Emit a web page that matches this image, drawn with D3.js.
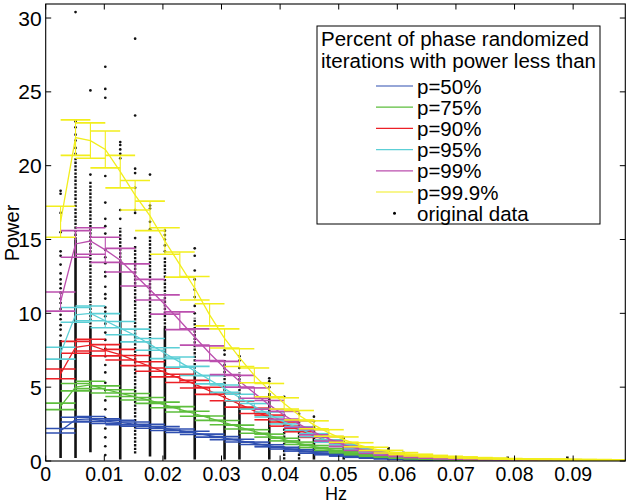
<!DOCTYPE html>
<html><head><meta charset="utf-8">
<script src="https://cdn.jsdelivr.net/npm/d3@7/dist/d3.min.js"></script>
<style>
html,body{margin:0;padding:0;background:#fff;}
text{font-family:"Liberation Sans",Arial,Helvetica,sans-serif;fill:#000;}
</style></head>
<body><svg id="c" width="630" height="504"></svg>
<script>
// ---------------- data ----------------
const freqs = [0.00254,0.00509,0.00763,0.01017,0.01272,0.01526,0.01780,0.02034,0.02289,0.02543,
0.02797,0.03052,0.03306,0.03560,0.03815,0.04069,0.04323,0.04577,0.04832,0.05086,
0.05340,0.05595,0.05849,0.06103,0.06358,0.06612,0.06866,0.07120,0.07375,0.07629,
0.07883,0.08138,0.08392,0.08646,0.08901,0.09155,0.09409,0.09663,0.09918,0.10172];

const seriesNames = ["p=50%","p=75%","p=90%","p=95%","p=99%","p=99.9%"];

const p50 = [2.05,2.8,2.85,2.7,2.6,2.5,2.35,2.2,2.05,1.9,1.72,1.55,1.38,1.2,1.03,0.87,0.72,0.58,0.46,0.36,0.28,0.21,0.16,0.12,0.09,0.07,0.06,0.05,0.04,0.03,0.03,0.02,0.02,0.02,0.02,0.01,0.01,0.01,0.01,0.01];
const p75 = [3.7,5.0,5.15,4.85,4.6,4.35,4.1,3.8,3.5,3.2,2.9,2.6,2.3,2.0,1.72,1.45,1.2,0.98,0.78,0.6,0.46,0.35,0.27,0.21,0.16,0.13,0.1,0.08,0.07,0.06,0.05,0.04,0.04,0.03,0.03,0.03,0.02,0.02,0.02,0.02];
const p90 = [5.9,7.7,7.85,7.5,7.2,6.8,6.4,6.0,5.6,5.2,4.75,4.3,3.85,3.4,2.95,2.5,2.1,1.7,1.35,1.05,0.8,0.6,0.45,0.35,0.27,0.21,0.17,0.14,0.11,0.09,0.08,0.07,0.06,0.05,0.05,0.04,0.04,0.03,0.03,0.03];
const p95 = [7.3,9.9,10.0,9.5,9.0,8.5,7.9,7.3,6.7,6.1,5.5,4.9,4.3,3.7,3.15,2.65,2.2,1.75,1.35,1.05,0.8,0.6,0.45,0.35,0.27,0.21,0.17,0.14,0.12,0.1,0.09,0.08,0.07,0.06,0.05,0.05,0.04,0.04,0.03,0.03];
const p99 = [10.8,14.7,14.9,14.3,13.6,12.6,11.6,10.6,9.5,8.4,7.3,6.3,5.4,4.6,3.8,3.1,2.5,1.95,1.5,1.1,0.82,0.6,0.45,0.35,0.28,0.22,0.18,0.15,0.13,0.11,0.1,0.09,0.08,0.07,0.06,0.06,0.05,0.05,0.04,0.04];
const p999 = [16.2,21.9,21.7,21.1,19.6,18.0,16.6,14.9,13.3,11.7,9.9,8.3,7.0,5.8,4.8,3.9,3.1,2.45,1.9,1.45,1.1,0.82,0.63,0.5,0.4,0.33,0.28,0.24,0.2,0.17,0.15,0.13,0.12,0.11,0.1,0.09,0.08,0.07,0.07,0.06];

// error-bar half widths
const e50 = [0.15,0.16,0.16,0.15,0.15,0.14,0.13,0.13,0.12,0.11,0.1,0.1,0.09,0.08,0.07,0.06,0.05,0.05,0.04,0.03,0.03,0.02,0.02,0.01,0.01,0.01,0.01,0.01,0.01,0.01,0,0,0,0,0,0,0,0,0,0];
const e75 = [0.22,0.25,0.25,0.24,0.23,0.22,0.2,0.19,0.18,0.17,0.15,0.14,0.13,0.12,0.1,0.09,0.08,0.07,0.06,0.05,0.04,0.03,0.02,0.02,0.01,0.01,0.01,0.01,0.01,0.01,0,0,0,0,0,0,0,0,0,0];
const e90 = [0.33,0.4,0.4,0.38,0.36,0.34,0.32,0.3,0.28,0.26,0.24,0.22,0.2,0.18,0.16,0.14,0.12,0.1,0.08,0.06,0.05,0.04,0.03,0.02,0.02,0.01,0.01,0.01,0.01,0.01,0,0,0,0,0,0,0,0,0,0];
const e95 = [0.4,0.5,0.5,0.48,0.45,0.43,0.4,0.37,0.34,0.31,0.28,0.25,0.22,0.19,0.17,0.14,0.12,0.1,0.08,0.06,0.05,0.04,0.03,0.03,0.02,0.02,0.01,0.01,0.01,0.01,0.01,0,0,0,0,0,0,0,0,0];
const e99 = [0.65,0.9,0.9,0.85,0.8,0.75,0.7,0.65,0.6,0.55,0.5,0.45,0.4,0.35,0.3,0.26,0.22,0.18,0.15,0.12,0.1,0.08,0.06,0.05,0.04,0.03,0.03,0.02,0.02,0.02,0.01,0.01,0.01,0.01,0.01,0,0,0,0,0];
const e999 = [1.05,1.2,1.2,1.25,1.1,1.0,1.0,0.9,0.85,0.8,0.75,0.65,0.6,0.5,0.45,0.38,0.32,0.27,0.22,0.18,0.14,0.11,0.09,0.07,0.06,0.05,0.04,0.04,0.03,0.03,0.02,0.02,0.02,0.02,0.02,0.01,0.01,0.01,0.01,0.01];

// original data: columns (frequency index, 1-based), outlying points, solid and dotted runs of overlapping points
const dotCols = [1,2,3,4,5,6,7,8,10,12,13,15,16,17,18,20,23,24,27,31,35];
const dotPoints = [
 [18.3,18.1,16.8,15.5,14.2,13.9,13.3,12.7,12.3,12.0,11.7,11.4,11.0,10.7,10.3,9.9,9.6,9.2,8.9,8.5],
 [30.4,23.0,22.6,22.1,21.7,21.2,20.8],
 [25.1,19.4],
 [26.7,25.2,24.6,19.3,17.5,16.4,15.9,15.4,14.3,13.8,13.4,12.8,12.5,11.8,11.3,11.0,10.4,10.1,9.8,9.3,8.7,8.2,7.6,7.1,6.5,6.0,5.3,4.8,4.1,3.5,2.9,2.2,1.6,1.0,0.4],
 [21.6,21.4,21.1,20.8,20.5,17.0,16.4],
 [28.6,23.4,19.8,19.5,18.5,17.0,16.8,15.1],
 [19.4,17.3,17.1,16.2,15.7],
 [15.6,15.3,15.0,14.6,14.2],
 [14.4,13.9,12.9,12.3,11.6,11.1,10.5,10.0],
 [7.5,7.2],
 [7.1,6.8,6.3],
 [5.6,5.4,5.0],
 [4.35,3.1],
 [3.2],
 [3.0,2.7],
 [1.55,1.3],
 [],[],[],[],[]
];
const dotSolid = [[0.2,8.2],[0.2,15.0],[0.6,9.0],null,[0.1,13.5],null,[0.3,8.0],[0.1,9.0],[0.1,6.0],[0.1,4.0],[0.1,3.5],[0.1,4.6],null,null,[0.1,2.4],[0.1,1.1],[0.05,0.95],[0.05,0.63],[0.05,0.3],[0.05,0.3],[0.05,0.3]];
const dotDotted = [null,[15.0,20.5],[9.0,19.0],null,[13.5,15.8],[0.5,14.6],[8.0,15.3],[9.0,13.8],[6.0,9.7],[4.0,6.9],[3.5,6.0],null,[0.1,2.8],[0.1,2.7],null,null,null,null,null,null,null];

const xTicks = [0,0.01,0.02,0.03,0.04,0.05,0.06,0.07,0.08,0.09];
const yTicks = [0,5,10,15,20,25,30];

// ---------------- drawing ----------------
const colors = ["#2f4fb0","#5dbe3c","#ec2027","#5ccfd6","#bb4fae","#f2ee1d"];
const vals = [p50,p75,p90,p95,p99,p999];
const errs = [e50,e75,e90,e95,e99,e999];

const L=45.7, R=625.3, T=4, B=461;
const x = d3.scaleLinear().domain([0,0.0989]).range([L,R]);
const y = d3.scaleLinear().domain([0,30.95]).range([B,T]);
const capHalf = 0.00254;

const svg = d3.select("#c");
svg.append("defs").append("clipPath").attr("id","clip")
  .append("rect").attr("x",L).attr("y",T).attr("width",R-L).attr("height",B-T);
const plot = svg.append("g").attr("clip-path","url(#clip)");

// data dots
const dg = plot.append("g");
dotCols.forEach((k,i)=>{
  const fx = x(freqs[k-1]);
  if (dotSolid[i]) dg.append("line").attr("x1",fx).attr("x2",fx)
     .attr("y1",y(dotSolid[i][0])).attr("y2",y(dotSolid[i][1]))
     .attr("stroke","#111").attr("stroke-width",2.6);
  if (dotDotted[i]) dg.append("line").attr("x1",fx).attr("x2",fx)
     .attr("y1",y(dotDotted[i][0])).attr("y2",y(dotDotted[i][1]))
     .attr("stroke","#111").attr("stroke-width",2.4).attr("stroke-dasharray","2.3,1.3");
  dotPoints[i].forEach(v=>{
    dg.append("circle").attr("cx",fx).attr("cy",y(v)).attr("r",1.35).attr("fill","#111");
  });
});

// series with error bars
vals.forEach((vs,si)=>{
  const g = plot.append("g").attr("stroke",colors[si]).attr("fill","none");
  const es = errs[si];
  vs.forEach((v,i)=>{
    const f = freqs[i], lo=v-es[i], hi=v+es[i];
    g.append("line").attr("x1",x(f)).attr("x2",x(f)).attr("y1",y(lo)).attr("y2",y(hi)).attr("stroke-width",1.1);
    [lo,hi].forEach(c=>{
      g.append("line").attr("x1",x(f-capHalf)).attr("x2",x(f+capHalf))
        .attr("y1",y(c)).attr("y2",y(c)).attr("stroke-width",1.6);
    });
  });
  const line = d3.line().x((d,i)=>x(freqs[i])).y(d=>y(d));
  g.append("path").attr("d",line(vs)).attr("stroke-width",1.3);
});

// axes box & ticks
const ax = svg.append("g");
ax.append("rect").attr("x",L).attr("y",T).attr("width",R-L).attr("height",B-T)
  .attr("fill","none").attr("stroke","#000").attr("stroke-width",1.1);
const tl = 5.5;
xTicks.forEach(t=>{
  const px = x(t);
  ax.append("line").attr("x1",px).attr("x2",px).attr("y1",B).attr("y2",B-tl).attr("stroke","#000");
  ax.append("line").attr("x1",px).attr("x2",px).attr("y1",T).attr("y2",T+tl).attr("stroke","#000");
  ax.append("text").attr("x",px).attr("y",480.5).attr("text-anchor","middle")
    .style("font-size","19.5px").text(t===0?"0":String(t));
});
yTicks.forEach(t=>{
  const py = y(t);
  ax.append("line").attr("x1",L).attr("x2",L+tl).attr("y1",py).attr("y2",py).attr("stroke","#000");
  ax.append("line").attr("x1",R).attr("x2",R-tl).attr("y1",py).attr("y2",py).attr("stroke","#000");
  ax.append("text").attr("x",L-4).attr("y",py+7.5).attr("text-anchor","end")
    .style("font-size","21px").text(String(t));
});
svg.append("text").attr("x",336).attr("y",499.5).attr("text-anchor","middle").style("font-size","18px").text("Hz");
svg.append("text").attr("transform","translate(19,233) rotate(-90)").attr("text-anchor","middle").style("font-size","20px").text("Power");

// legend
const lg = svg.append("g");
const lx=317, ly=26, lw=283, lh=198;
lg.append("rect").attr("x",lx).attr("y",ly).attr("width",lw).attr("height",lh)
  .attr("fill","#fff").attr("stroke","#000").attr("stroke-width",1);
lg.append("text").attr("x",321).attr("y",46).attr("textLength",268).attr("lengthAdjust","spacingAndGlyphs")
  .style("font-size","19.5px").text("Percent of phase randomized");
lg.append("text").attr("x",321).attr("y",68).attr("textLength",275).attr("lengthAdjust","spacingAndGlyphs")
  .style("font-size","19.5px").text("iterations with power less than");
const rowY0 = 86, rowH = 21.2;
seriesNames.forEach((n,i)=>{
  const yy = rowY0 + i*rowH;
  lg.append("line").attr("x1",376).attr("x2",413).attr("y1",yy).attr("y2",yy).attr("stroke",colors[i]).attr("stroke-width",1.2);
  lg.append("text").attr("x",417).attr("y",yy+7.5).style("font-size","20.5px").text(n);
});
const yo = rowY0 + 6*rowH;
lg.append("circle").attr("cx",394.5).attr("cy",yo).attr("r",1.5).attr("fill","#000");
lg.append("text").attr("x",417).attr("y",yo+7.5).style("font-size","20.5px").text("original data");
</script></body></html>
